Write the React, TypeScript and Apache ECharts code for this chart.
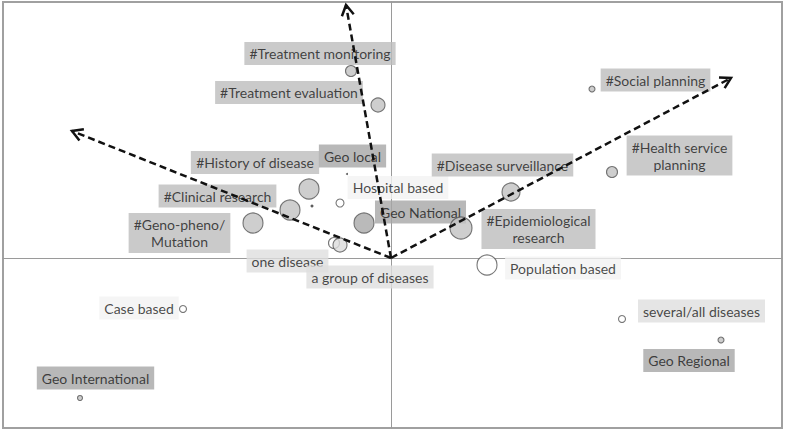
import React, { useEffect, useRef } from "react";
import * as echarts from "echarts";

// Bubble points (x, y in plot units; radius in px)
const bubbleX = [-0.40, -0.13, -0.82, -1.01, -1.38, -0.79, -0.44, -0.51, -0.27, -0.57, -0.51, 1.20, 0.70, 0.96, 2.21, 2.01, 2.31, 3.30, -2.08, -3.11];
const bubbleY = [1.87, 1.53, 0.69, 0.48, 0.35, 0.52, 0.84, 0.55, 0.35, 0.15, 0.13, 0.66, 0.30, -0.07, 0.86, 1.69, -0.61, -0.82, -0.51, -1.40];
const bubbleR = [5.5, 7, 10, 10, 10, 1.5, 1, 4, 10, 5.5, 7, 9, 11, 10, 5.5, 3, 3.5, 3, 3.5, 2.5];
const bubbleTone = ["mid", "mid", "mid", "mid", "mid", "dot", "dot", "white", "dark", "white", "light", "mid", "mid", "white", "mid", "mid", "white", "mid", "white", "mid"];

// Labels
const labelText = [
  "#Treatment monitoring",
  "#Treatment evaluation",
  "#History of disease",
  "Geo local",
  "Hospital based",
  "#Clinical research",
  "Geo National",
  "#Geno-pheno/\nMutation",
  "one disease",
  "a group of diseases",
  "#Disease surveillance",
  "#Epidemiological\nresearch",
  "Population based",
  "several/all diseases",
  "Geo Regional",
  "Case based",
  "Geo International",
  "#Social planning",
  "#Health service\nplanning",
];
const labelX = [-0.71, -1.02, -1.36, -0.385, 0.07, -1.735, 0.295, -2.115, -1.035, -0.21, 1.115, 1.475, 1.72, 3.105, 2.98, -2.52, -2.955, 2.645, 2.885];
const labelY = [2.045, 1.655, 0.955, 1.02, 0.705, 0.62, 0.46, 0.25, -0.03, -0.19, 0.93, 0.29, -0.10, -0.53, -1.025, -0.50, -1.20, 1.78, 1.025];
const labelTone = ["hash", "hash", "hash", "geo", "pale", "hash", "geo", "hash", "light", "light", "hash", "hash", "pale", "light", "geo", "pale", "geo", "hash", "hash"];

// Arrows from origin
const arrowEndX = [-3.19, -0.45, 3.40];
const arrowEndY = [1.27, 2.53, 1.80];

const bubbleFill: Record<string, string> = {
  mid: "#c2c2c2",
  dark: "#a9a9a9",
  light: "#dcdcdc",
  white: "#ffffff",
  dot: "#333333",
};
const labelFill: Record<string, string> = {
  hash: "#bdbdbd",
  geo: "#a6a6a6",
  light: "#dedede",
  pale: "#f2f2f2",
};

export default function App() {
  const ref = useRef<HTMLDivElement>(null);
  useEffect(() => {
    if (!ref.current) return;
    const chart = echarts.init(ref.current, null, { renderer: "svg" });

    const bubbleData = bubbleX.map((x, i) => ({
      value: [x, bubbleY[i], bubbleR[i]],
      itemStyle: {
        color: bubbleFill[bubbleTone[i]],
        borderColor: bubbleTone[i] === "dot" ? "#333" : "#555",
        borderWidth: bubbleTone[i] === "dot" ? 0 : 1.1,
      },
    }));

    const labelData = labelText.map((t, i) => ({
      value: [labelX[i], labelY[i]],
      name: t,
      label: { backgroundColor: labelFill[labelTone[i]] },
    }));

    const arrowData = arrowEndX.map((x, i) => [0, 0, x, arrowEndY[i]]);

    chart.setOption({
      animation: false,
      backgroundColor: "#ffffff",
      grid: {
        left: 3,
        right: 3,
        top: 2,
        bottom: 3,
        show: true,
        borderColor: "#a0a0a0",
        borderWidth: 2,
        backgroundColor: "transparent",
      },
      xAxis: {
        type: "value",
        min: -3.88,
        max: 3.91,
        axisLine: { show: true, onZero: true, lineStyle: { color: "#9a9a9a", width: 1 } },
        axisTick: { show: false },
        axisLabel: { show: false },
        splitLine: { show: false },
      },
      yAxis: {
        type: "value",
        min: -1.70,
        max: 2.56,
        axisLine: { show: true, onZero: true, lineStyle: { color: "#9a9a9a", width: 1 } },
        axisTick: { show: false },
        axisLabel: { show: false },
        splitLine: { show: false },
      },
      series: [
        {
          type: "scatter",
          z: 3,
          symbol: "rect",
          symbolSize: 0,
          silent: true,
          data: labelData,
          label: {
            show: true,
            position: "inside",
            formatter: (p: any) => p.name,
            color: "#1a1a1a",
            fontFamily: "Lato",
            fontSize: 14,
            lineHeight: 17,
            align: "center",
            verticalAlign: "middle",
            padding: [3, 5, 3, 5],
          },
        },
        {
          type: "scatter",
          z: 4,
          symbol: "circle",
          symbolSize: (v: number[]) => v[2] * 2,
          data: bubbleData,
        },
        {
          type: "custom",
          z: 6,
          silent: true,
          encode: { x: [0, 2], y: [1, 3] },
          data: arrowData,
          renderItem: (params: any, api: any) => {
            const p0 = api.coord([api.value(0), api.value(1)]);
            const p1 = api.coord([api.value(2), api.value(3)]);
            const ang = Math.atan2(p1[1] - p0[1], p1[0] - p0[0]);
            const L = 12;
            const a = Math.PI / 6;
            const h1 = [p1[0] - L * Math.cos(ang - a), p1[1] - L * Math.sin(ang - a)];
            const h2 = [p1[0] - L * Math.cos(ang + a), p1[1] - L * Math.sin(ang + a)];
            return {
              type: "group",
              children: [
                {
                  type: "line",
                  shape: { x1: p0[0], y1: p0[1], x2: p1[0], y2: p1[1] },
                  style: { stroke: "#111", lineWidth: 2.5, lineDash: [7, 4], fill: null },
                },
                {
                  type: "polyline",
                  shape: { points: [h1, p1, h2] },
                  style: { stroke: "#111", lineWidth: 2.5, fill: null },
                },
              ],
            };
          },
        },
      ],
    });
    return () => chart.dispose();
  }, []);

  return (
    <div
      ref={ref}
      style={{ position: "fixed", left: 0, top: 0, width: 785, height: 431, background: "#fff" }}
    />
  );
}
